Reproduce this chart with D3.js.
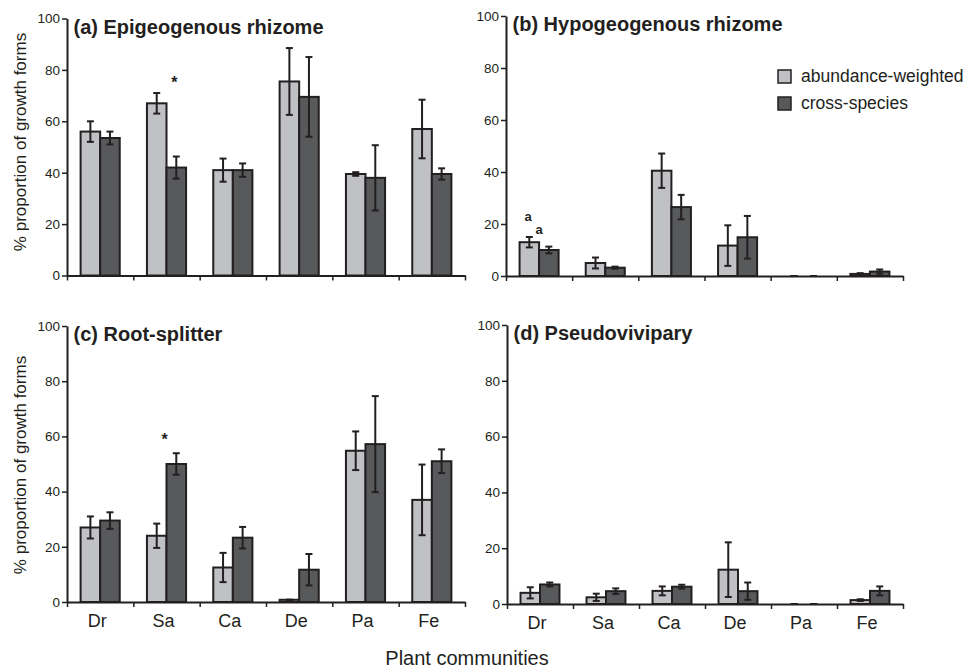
<!DOCTYPE html>
<html>
<head>
<meta charset="utf-8">
<script src="https://cdn.jsdelivr.net/npm/d3@7"></script>
<style>
  body { margin:0; background:#fff; }
  svg text { font-family: "Liberation Sans", Arial, sans-serif; fill:#231f20; }
</style>
</head>
<body>
<svg id="viz-svg" width="964" height="670"></svg>
<script>
// categories + series
var categories = ["Dr","Sa","Ca","De","Pa","Fe"]
  , seriesNames = ["abundance-weighted","cross-species"]
  , yTicks = [0,20,40,60,80,100]
  , titles = ["(a) Epigeogenous rhizome","(b) Hypogeogenous rhizome","(c) Root-splitter","(d) Pseudovivipary"];

// (a) epigeogenous rhizome
var epiAbund     = [56, 67, 41, 75.5, 39.5, 57]
  , epiAbundErr  = [4, 4, 4.5, 13, 0.7, 11.4]
  , epiCross     = [53.5, 42, 41, 69.5, 38, 39.5]
  , epiCrossErr  = [2.5, 4.3, 2.6, 15.5, 12.7, 2.2];
// (b) hypogeogenous rhizome
var hypoAbund    = [13, 5, 40.5, 11.7, 0, 0.8]
  , hypoAbundErr = [2, 2.1, 6.6, 7.8, 0, 0.3]
  , hypoCross    = [10, 3.2, 26.5, 14.9, 0, 1.7]
  , hypoCrossErr = [1.3, 0.4, 4.7, 8.2, 0, 0.8];
// (c) root-splitter
var rootAbund    = [27, 24, 12.5, 0.8, 54.8, 37]
  , rootAbundErr = [4, 4.4, 5.3, 0, 7, 12.8]
  , rootCross    = [29.5, 50, 23.3, 11.7, 57.2, 51]
  , rootCrossErr = [3, 3.9, 3.9, 5.7, 17.4, 4.3];
// (d) pseudovivipary
var pseuAbund    = [4, 2.4, 4.7, 12.3, 0, 1.4]
  , pseuAbundErr = [2, 1.3, 1.6, 9.8, 0, 0.3]
  , pseuCross    = [7, 4.6, 6.2, 4.6, 0, 4.7]
  , pseuCrossErr = [0.7, 1, 0.7, 3.1, 0, 1.6];

// significance marks: [panel, category, position across group (0..1), value, text]
var marks = [
  [0, "Sa", 0.7, 73, "*"],
  [2, "Sa", 0.45, 57, "*"],
  [1, "Dr", 0.22, 21, "a"],
  [1, "Dr", 0.5, 16, "a"]
];

var svg = d3.select("#viz-svg")
  , lightFill = "#c0c1c4"
  , darkFill = "#58595b"
  , ink = "#231f20"
  , panels = [
      {x0:67,  x1:465, yTop:18.5, yBot:275.5, labelY:142, values:[epiAbund,epiCross],   errs:[epiAbundErr,epiCrossErr]},
      {x0:506, x1:903, yTop:16,   yBot:276,   labelY:null, values:[hypoAbund,hypoCross], errs:[hypoAbundErr,hypoCrossErr]},
      {x0:67,  x1:465, yTop:326,  yBot:602,   labelY:465, values:[rootAbund,rootCross], errs:[rootAbundErr,rootCrossErr]},
      {x0:507, x1:903, yTop:325,  yBot:604,   labelY:null, values:[pseuAbund,pseuCross], errs:[pseuAbundErr,pseuCrossErr]}
    ];

panels.forEach(function(p,pi){
  var g = svg.append("g").attr("class","panel-"+pi)
    , y = d3.scaleLinear().domain([0,100]).range([p.yBot,p.yTop])
    , x = d3.scaleBand().domain(categories).range([p.x0,p.x1]).paddingInner(0.41).paddingOuter(0.205)
    , xs = d3.scaleBand().domain(seriesNames).range([0,x.bandwidth()])
    , xEdge = d3.scaleLinear().domain([0,categories.length]).range([p.x0,p.x1])
    , rows = [];

  seriesNames.forEach(function(s,si){
    categories.forEach(function(c,ci){
      rows.push({cat:c, series:s, si:si, v:p.values[si][ci], e:p.errs[si][ci]});
    });
  });

  // bars
  g.selectAll(".bar").data(rows).enter().append("rect")
    .attr("class","bar")
    .attr("x",function(d){ return x(d.cat)+xs(d.series); })
    .attr("y",function(d){ return y(d.v); })
    .attr("width",xs.bandwidth())
    .attr("height",function(d){ return y(0)-y(d.v); })
    .attr("fill",function(d){ return d.si==0 ? lightFill : darkFill; })
    .attr("stroke",ink)
    .attr("stroke-width",2);

  // error bars
  var eb = g.selectAll(".err").data(rows)
    .enter().append("g").attr("class","err")
    .attr("transform",function(d){ return "translate("+(x(d.cat)+xs(d.series)+xs.bandwidth()/2)+",0)"; })
    .attr("stroke",ink).attr("stroke-width",2);
  eb.append("line")
    .attr("y1",function(d){ return y(d.v+d.e); })
    .attr("y2",function(d){ return y(Math.max(0,d.v-d.e)); });
  eb.append("line").attr("x1",-3.5).attr("x2",3.5)
    .attr("y1",function(d){ return y(d.v+d.e); }).attr("y2",function(d){ return y(d.v+d.e); });
  eb.append("line").attr("x1",-3.5).attr("x2",3.5)
    .attr("y1",function(d){ return y(Math.max(0,d.v-d.e)); }).attr("y2",function(d){ return y(Math.max(0,d.v-d.e)); });

  // y axis
  var yAxis = g.append("g")
    .attr("transform","translate("+p.x0+",0)")
    .call(d3.axisLeft(y).tickValues(yTicks).tickSize(5).tickSizeOuter(0).tickPadding(2));
  yAxis.select(".domain").attr("stroke",ink).attr("stroke-width",2);
  yAxis.selectAll(".tick line").attr("stroke",ink).attr("stroke-width",1.5);
  yAxis.selectAll(".tick text").style("font-size","13.5px").attr("fill",ink)
    .style("font-family","'Liberation Sans', Arial, sans-serif");

  // x axis (ticks at category edges)
  var xAxis = g.append("g")
    .attr("transform","translate(0,"+p.yBot+")")
    .call(d3.axisBottom(xEdge).tickValues(d3.range(categories.length+1)).tickSize(5).tickSizeOuter(0).tickFormat(""));
  xAxis.select(".domain").attr("stroke",ink).attr("stroke-width",2);
  xAxis.selectAll(".tick line").attr("stroke",ink).attr("stroke-width",1.5);

  // category labels only on the bottom row
  if (pi>1){
    g.selectAll(".cat-label").data(categories).enter().append("text")
      .attr("class","cat-label")
      .attr("x",function(d){ return x(d)+x.bandwidth()/2-3; })
      .attr("y",p.yBot+25)
      .attr("text-anchor","middle")
      .style("font-size","18px")
      .text(function(d){ return d; });
  }

  // panel title
  g.append("text")
    .attr("x",p.x0+6.5)
    .attr("y",p.yTop+15)
    .style("font-size","20px")
    .style("font-weight","bold")
    .text(titles[pi]);

  // y label on left panels
  if (p.labelY){
    g.append("text")
      .attr("transform","translate(26,"+p.labelY+") rotate(-90)")
      .attr("text-anchor","middle")
      .style("font-size","17px")
      .text("% proportion of growth forms");
  }

  // marks
  marks.filter(function(m){ return m[0]==pi; }).forEach(function(m){
    g.append("text")
      .attr("x",x(m[1])+m[2]*x.bandwidth())
      .attr("y",y(m[3]))
      .attr("text-anchor","middle")
      .style("font-size",m[4]=="*" ? "16px" : "13px")
      .style("font-weight","bold")
      .text(m[4]);
  });
});

// legend
var legend = svg.append("g").attr("transform","translate(778,70)");
legend.selectAll("rect").data(seriesNames).enter().append("rect")
  .attr("x",0)
  .attr("y",function(d,i){ return i*27; })
  .attr("width",13).attr("height",13)
  .attr("fill",function(d,i){ return i==0 ? lightFill : darkFill; })
  .attr("stroke",ink).attr("stroke-width",1.5);
legend.selectAll("text").data(seriesNames).enter().append("text")
  .attr("x",23)
  .attr("y",function(d,i){ return i*27+12; })
  .style("font-size","17.5px")
  .text(function(d){ return d; });

// shared x label
svg.append("text")
  .attr("x",467)
  .attr("y",665)
  .attr("text-anchor","middle")
  .style("font-size","20px")
  .text("Plant communities");
</script>
</body>
</html>
